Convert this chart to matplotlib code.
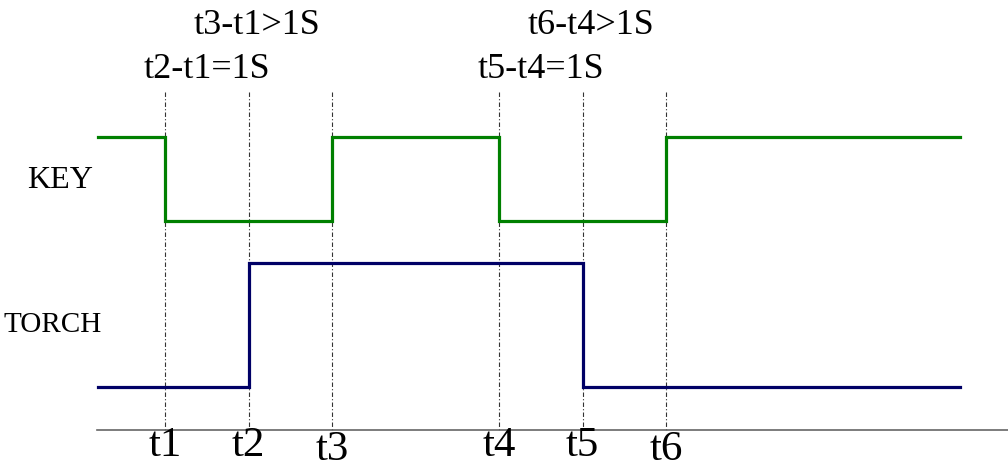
import matplotlib
matplotlib.use("Agg")
import matplotlib.pyplot as plt

# Data (time in units, t1..t6)
t_labels = ["t1", "t2", "t3", "t4", "t5", "t6"]
t_values = [1.0, 2.0, 3.0, 5.0, 6.0, 7.0]
t_start, t_end = 0.2, 10.52
key_edges = [t_start, 1.0, 3.0, 5.0, 7.0, t_end]
key_states = [1, 0, 1, 0, 1]
torch_edges = [t_start, 2.0, 6.0, t_end]
torch_states = [0, 1, 0]
annotations_top = ["t3-t1>1S", "t6-t4>1S"]
annotations_mid = ["t2-t1=1S", "t5-t4=1S"]

FONT = ["Liberation Serif", "DejaVu Serif"]

fig = plt.figure(figsize=(10.08, 4.68), dpi=100)
ax = fig.add_axes([0, 0, 1, 1])
x_left = 1 - 165 / 83.5
x_right = 1 + 843 / 83.5
ax.set_xlim(x_left, x_right)
ax.set_ylim(468, 0)
ax.axis("off")

def level_y(state, hi, lo):
    return hi if state else lo

# KEY signal
ky = [level_y(s, 137, 221) for s in key_states]
ax.step(key_edges, ky + [ky[-1]], where="post", color="#008000", lw=2.3,
        solid_joinstyle="miter")
# TORCH signal
ty = [level_y(s, 263, 387) for s in torch_states]
ax.step(torch_edges, ty + [ty[-1]], where="post", color="#000066", lw=2.3,
        solid_joinstyle="miter")

# dash-dot verticals
for t in t_values:
    ax.plot([t, t], [92, 430], color="#333333", lw=0.8, ls=(0, (4, 2, 1, 2)), zorder=0)

# baseline
ax.plot([t_start - 0.01, x_right], [430, 430], color="#666666", lw=1.2)

# bottom labels
for lab, t in zip(t_labels, t_values):
    dy = 4 if lab in ("t3", "t6") else 0
    ax.text(t, 446 + dy, lab, ha="center", va="center", fontsize=31, family=FONT)

# annotations
ax.text(2.10, 26, annotations_top[0], ha="center", va="center", fontsize=26, family=FONT)
ax.text(1.50, 69, annotations_mid[0], ha="center", va="center", fontsize=26, family=FONT)
ax.text(6.10, 26, annotations_top[1], ha="center", va="center", fontsize=26, family=FONT)
ax.text(5.50, 69, annotations_mid[1], ha="center", va="center", fontsize=26, family=FONT)

# signal names
ax.text(1 + (60 - 165) / 83.5, 180, "KEY", ha="center", va="center", fontsize=23, family=FONT)
ax.text(1 + (53 - 165) / 83.5, 325, "TORCH", ha="center", va="center", fontsize=21, family=FONT)

fig.savefig("out.png", dpi=100)
